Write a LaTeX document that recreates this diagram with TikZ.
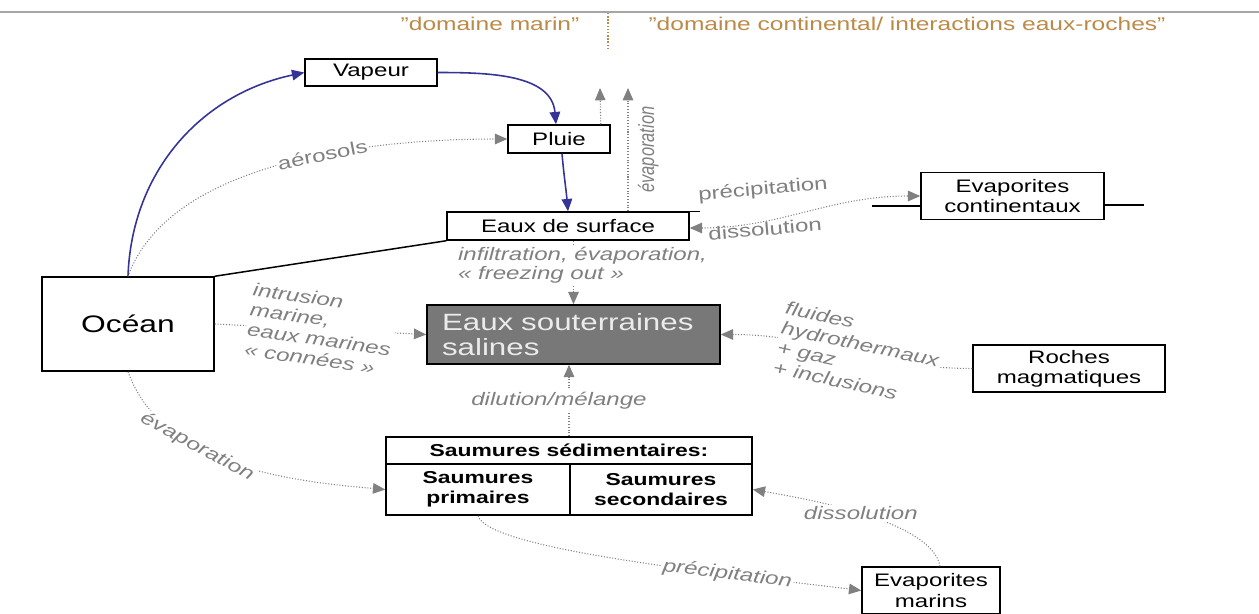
\documentclass[tikz,border=0pt]{standalone}
\usepackage{fontspec}
\setmainfont{Liberation Sans}[FakeStretch=1.33]
\newfontfamily\plainsans{Liberation Sans}
\usetikzlibrary{arrows.meta}
\usetikzlibrary{calc}
\definecolor{flowblue}{RGB}{52,52,150}
\definecolor{notegray}{RGB}{128,128,128}
\definecolor{domainbrown}{RGB}{188,138,72}
\definecolor{deepgray}{RGB}{120,120,120}
\tikzstyle{box}=[draw,line width=0.85pt,rectangle,align=center,inner sep=0pt,font=\fontsize{10.3}{11.5}\selectfont]
\tikzstyle{boldbox}=[box,font=\bfseries\fontsize{9.8}{11.3}\selectfont]
\tikzstyle{flow} = [draw,line width=0.9pt,flowblue,-{Triangle[length=7pt,width=6pt]}]
\tikzstyle{link} = [draw,densely dotted,notegray,line width=0.6pt,-{Triangle[length=7pt,width=6pt]}]
\tikzstyle{note} = [font=\itshape\fontsize{10.3}{11.5}\selectfont,text=notegray,inner sep=1pt]
\tikzstyle{upnote} = [note,font=\fontsize{10.3}{11.5}\selectfont]

\begin{document}
\begin{tikzpicture}[x=0.02cm,y=0.02cm]
    \useasboundingbox (0,0) rectangle (1259,-613);

    % header
    \draw[gray!70,line width=1pt] (0,-12) -- (1259,-12);
    \draw[domainbrown,densely dotted,line width=0.8pt] (608,-13) -- (608,-50);
    \node[text=domainbrown,font=\fontsize{10.5}{12}\selectfont] (marin) at (490,-24) {"domaine marin"};
    \node[text=domainbrown,font=\fontsize{10.5}{12}\selectfont] (continent) at (907,-24) {"domaine continental/ interactions eaux-roches"};

    \foreach \pos/\name/\txt/\w/\h in {{(371,-72.5)/vapeur/Vapeur/132/27},
            {(559,-139)/pluie/Pluie/102/28},
            {(568,-226)/surface/Eaux de surface/242/28},
            {(1012.5,-196)/evapcont/{Evaporites\\continentaux}/183/47},
            {(1069,-368.5)/roches/{Roches\\magmatiques}/192/47},
            {(931,-590.5)/evapmar/{Evaporites\\marins}/138/47}}
        \node[box,minimum width=\w*0.02cm,minimum height=\h*0.02cm] (\name) at \pos {\txt};

    \node[box,font=\fontsize{13.6}{16}\selectfont,minimum width=172*0.02cm,minimum height=94*0.02cm] (ocean) at (128,-324) {Océan};

    \node[box,fill=deepgray,text=black!8,align=left,font=\fontsize{13.4}{13.8}\selectfont,
          text width=263*0.02cm,inner xsep=15*0.02cm,minimum height=59*0.02cm] (souter) at (573.5,-334.5) {Eaux souterraines\\salines};

    \node[boldbox,minimum width=366*0.02cm,minimum height=27*0.02cm] (sedi) at (569,-450.5) {Saumures sédimentaires:};
    \foreach \pos/\name/\txt/\w in {{(478,-489.5)/primaires/{Saumures\\primaires}/184},
            {(661,-489.5)/secondaires/{Saumures\\secondaires}/182}}
        \node[boldbox,minimum width=\w*0.02cm,minimum height=51*0.02cm] (\name) at \pos {\txt};

    % black lines
    \draw[line width=0.85pt] (ocean.north east) -- (surface.south west);
    \draw[line width=0.85pt] (surface.north east) -- +(10,0);
    \draw[line width=0.85pt] ($(evapcont.west)+(-48,-10)$) -- ($(evapcont.west)+(0,-10)$);
    \draw[line width=0.85pt] ($(evapcont.east)+(0,-9)$) -- ($(evapcont.east)+(39,-9)$);

    % water cycle
    \draw[flow] (ocean.north) to[out=88,in=192] (vapeur.west);
    \draw[flow] (vapeur.east) to[out=0,in=95] ($(pluie.north)+(-3,0)$);
    \draw[flow] ($(pluie.south)+(3,0)$) to[out=-85,in=95] (surface.north);

    % dotted exchanges
    \draw[link] (ocean.north) to[out=70,in=180,looseness=0.8] node[upnote,fill=white,sloped,pos=0.58] {aérosols} (pluie.west);

    \coordinate (pluieup) at (600,-88);
    \coordinate (surfup) at (628,-88);
    \draw[link] ($(pluie.north east)+(-10,0)$) -- (pluieup);
    \draw[link] ($(surface.north)+(60,0)$) -- node[upnote,font=\plainsans\itshape\fontsize{9.4}{11}\selectfont,xscale=1.33,rotate=90,anchor=north,inner sep=4pt] {évaporation} (surfup);

    \draw[link,{Triangle[length=7pt,width=6pt]}-{Triangle[length=7pt,width=6pt]}] ($(surface.east)+(0,-2)$) to[out=0,in=180] (evapcont.west);
    \node[upnote,rotate=5] (precont) at (763,-190) {précipitation};
    \node[upnote,rotate=5] (dissocont) at (765,-229) {dissolution};

    \draw[link] (surface.south -| souter.north) -- (souter.north);
    \node[note,fill=white,anchor=north west,align=left,font=\itshape\fontsize{10.3}{10.6}\selectfont] (infil) at (456,-245) {infiltration, évaporation,\\« freezing out »};

    \draw[link] (ocean.east) -- node[note,fill=white,rotate=-8,align=left] {intrusion\\marine,\\eaux marines\\« connées »} (souter.west);

    \draw[link] (roches.west) to[out=180,in=0] node[note,fill=white,rotate=-12,align=left,xshift=12*0.02cm] {fluides\\hydrothermaux\\+ gaz\\+ inclusions} (souter.east);

    \draw[link] (sedi.north) -- node[note,fill=white,xshift=-10*0.02cm] {dilution/mélange} (sedi.north |- souter.south);

    \draw[link] (ocean.south) to[out=-70,in=175,looseness=0.9] node[note,fill=white,sloped,pos=0.37] {évaporation} (primaires.west);

    \draw[link] (primaires.south) .. controls +(10,-35) and +(-120,15) .. node[note,fill=white,sloped,pos=0.7] {précipitation} (evapmar.west);

    \draw[link] ($(evapmar.north)+(9,0)$) to[out=100,in=-10,looseness=0.6] node[note,fill=white,pos=0.5] {dissolution} (secondaires.east);

\end{tikzpicture}
\end{document}
